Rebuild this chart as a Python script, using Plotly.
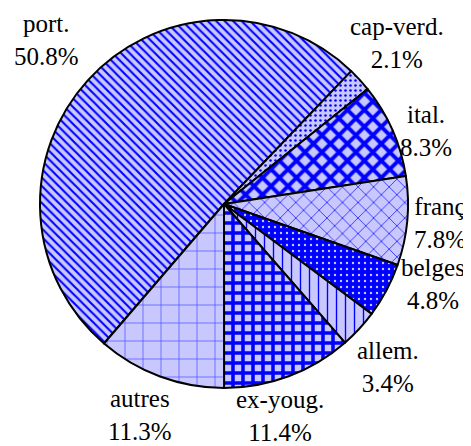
import math
import plotly.graph_objects as go

# parts des nationalités (%)
labels = ["port.", "cap-verd.", "ital.", "franç", "belges", "allem.", "ex-youg.", "autres"]
values = [50.8, 2.1, 8.3, 7.8, 4.8, 3.4, 11.4, 11.3]

lavender = "#c8c8ff"
blue = "#0000ff"

# motif de chaque tranche (shape, size, solidity, fond, motif)
patterns = [
    ("\\", 6, 0.35, lavender, blue),
    (".", 5, 0.2, lavender, blue),
    ("x", 12, 0.55, lavender, blue),
    ("x", 11, 0.12, lavender, blue),
    (".", 6, 0.12, blue, lavender),
    ("|", 9, 0.15, lavender, blue),
    ("+", 10, 0.58, lavender, blue),
    ("+", 18, 0.07, lavender, "#4040ff"),
]

# décalage des étiquettes (px) autour de la position radiale
label_shift = [(-14, 16), (10, 12), (0, -16), (-4, 1), (14, 24), (2, -13), (-22, -5), (-7, -4)]

rotation = -139.3
serif = dict(family="Liberation Serif", size=25, color="black")

fig = go.Figure()
fig.add_trace(go.Pie(
    labels=labels,
    values=values,
    textinfo="none",
    automargin=False,
    sort=False,
    direction="clockwise",
    rotation=rotation,
    marker=dict(
        colors=[p[3] for p in patterns],
        line=dict(color="black", width=2),
        pattern=dict(
            shape=[p[0] for p in patterns],
            size=[p[1] for p in patterns],
            solidity=[p[2] for p in patterns],
            bgcolor=[p[3] for p in patterns],
            fgcolor=[p[4] for p in patterns],
            fillmode="replace",
        ),
    ),
    showlegend=False,
    hoverinfo="label+percent",
))

# étiquettes extérieures, placées à l'angle médian de chaque tranche
total = sum(values)
start = rotation
for lab, v, (dx, dy) in zip(labels, values, label_shift):
    mid = math.radians(start + 180 * v / total)
    start += 360 * v / total
    k = 1.2
    fig.add_annotation(
        x=0.5 + 0.5 * k * math.sin(mid),
        y=0.5 + 0.5 * k * math.cos(mid),
        xref="paper", yref="paper",
        text=f"{lab}<br>{v}%",
        showarrow=False,
        xanchor="center", yanchor="middle",
        xshift=dx, yshift=dy,
        font=serif,
    )

# la page ajoute une marge de 8 px autour de la figure
fig.update_layout(
    width=463,
    height=438,
    margin=dict(l=32, r=63, t=12, b=58),
    font=serif,
    paper_bgcolor="white",
    plot_bgcolor="white",
)

fig.write_html("out.html")
